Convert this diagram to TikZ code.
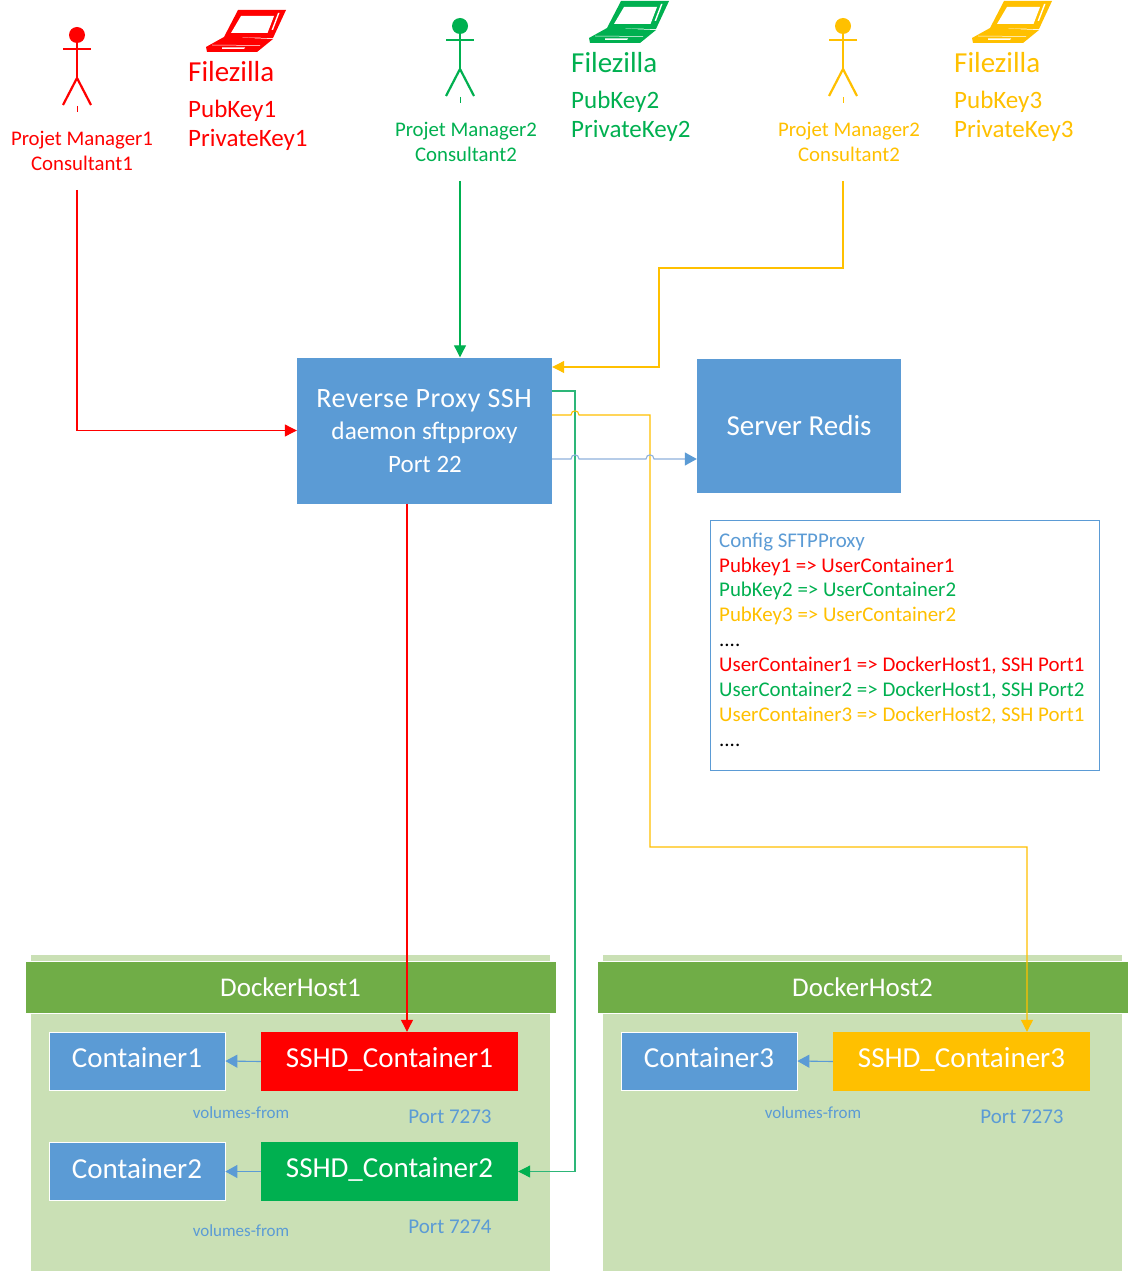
\documentclass[tikz,border=0pt]{standalone}
\usepackage{fontspec}
\setmainfont{Carlito}
\usetikzlibrary{arrows.meta}
\definecolor{cred}{HTML}{FF0000}
\definecolor{cgreen}{HTML}{00B050}
\definecolor{clink}{HTML}{2DB678}
\definecolor{cyellow}{HTML}{FFC000}
\definecolor{cblue}{HTML}{5B9BD5}
\definecolor{chead}{HTML}{70AD47}
\definecolor{cbg}{HTML}{CAE0B5}
\definecolor{cpale}{HTML}{8FB2DC}
\newcommand{\fs}[1]{\fontsize{#1}{#1}\selectfont}
\newcommand{\actorfig}[3]{%
 \begin{scope}[shift={(#1,#2)},draw=#3,line width=2.2pt]
  \fill[#3] (77,35) circle (8);
  \draw (63,49) -- (91,49);
  \draw (77,43) -- (77,78);
  \draw (63,105) -- (77,78) -- (91,105);
  \draw[line width=.6pt] (77,106) -- (77,112);
 \end{scope}}
\newcommand{\laptopfig}[3]{%
 \begin{scope}[shift={(#1,#2)}]
  \fill[#3] (238,10) -- (286,10) -- (273,38) -- (224,37) -- (206,47) -- (207,52) -- (257,52) -- (273,39) -- (224,37) -- cycle;
  \fill[white] (241,16) -- (274,16) -- (267.5,33) -- (231,33) -- cycle;
  \fill[white] (278,13) -- (279.5,13) -- (273,30) -- (271.5,30) -- cycle;
  \fill[white] (222,47.5) -- (245,47.5) -- (244,49) -- (222,49) -- cycle;
  \draw[white,line width=.5pt] (212,45) -- (260,45.5);
 \end{scope}}
\tikzset{
 box/.style={inner sep=0pt,text=white,align=center},
 bluebox/.style={box,fill=cblue},
 hostbar/.style={box,fill=chead,draw=white,line width=.4pt,minimum width=531pt,minimum height=52pt,font=\fs{27}},
 hostbg/.style={inner sep=0pt,fill=cbg,minimum width=519pt,minimum height=316pt},
 small/.style={box,minimum width=176pt,minimum height=58pt,font=\fs{29},draw=white,line width=.7pt},
 big/.style={box,minimum width=257pt,minimum height=59pt,font=\fs{29}},
 pm/.style={inner sep=0pt,align=center,font=\fs{20.8}},
 fz/.style={inner sep=0pt,anchor=base west,font=\fs{29}},
 keyt/.style={inner sep=0pt,anchor=base west,font=\fs{25}},
 cfg/.style={inner sep=0pt,anchor=base west,font=\fs{20.9}},
 vol/.style={inner sep=0pt,text=cblue,font=\fs{17}},
 port/.style={inner sep=0pt,text=cblue,font=\fs{21}},
 conn/.style={line width=1.1pt,-{Triangle[length=12pt,width=12pt]}},
 thin link/.style={line width=1.1pt,-{Triangle[length=12pt,width=13pt]}},
}
\begin{document}
\begin{tikzpicture}[x=1pt,y=-1pt]
\useasboundingbox[fill=white] (0,0) rectangle (1130,1273);

% people and laptops
\actorfig{0}{0}{cred}
\actorfig{383}{-9}{cgreen}
\actorfig{766}{-9}{cyellow}
\laptopfig{0}{0}{cred}
\laptopfig{383}{-9}{cgreen}
\laptopfig{766}{-9}{cyellow}

\node[pm,text=cred] (pmA) at (82,151) {Projet Manager1\\[4pt]Consultant1};
\node[pm,text=cgreen] (pmB) at (466,142) {Projet Manager2\\[4pt]Consultant2};
\node[pm,text=cyellow] (pmC) at (849,142) {Projet Manager2\\[4pt]Consultant2};

\node[fz,text=cred] (fzA) at (188,82) {Filezilla};
\node[keyt,text=cred] (pubA) at (188,118) {PubKey1};
\node[keyt,text=cred] (prvA) at (188,147) {PrivateKey1};
\node[fz,text=cgreen] (fzB) at (571,73) {Filezilla};
\node[keyt,text=cgreen] (pubB) at (571,109) {PubKey2};
\node[keyt,text=cgreen] (prvB) at (571,138) {PrivateKey2};
\node[fz,text=cyellow] (fzC) at (954,73) {Filezilla};
\node[keyt,text=cyellow] (pubC) at (954,109) {PubKey3};
\node[keyt,text=cyellow] (prvC) at (954,138) {PrivateKey3};

% central boxes
\node[bluebox,minimum width=255pt,minimum height=146pt] (proxy) at (424.5,430.5) {};
\node[inner sep=0pt,text=white,font=\fs{28}] (proxyA) at (424,401) {\addfontfeature{LetterSpace=2}Reverse Proxy SSH};
\node[inner sep=0pt,text=white,font=\fs{25.3}] (proxyB) at (424.5,433) {daemon sftpproxy};
\node[inner sep=0pt,text=white,font=\fs{25}] (proxyC) at (425,464) {Port 22};
\node[bluebox,minimum width=204pt,minimum height=134pt,font=\fs{29}] (redis) at (799,426) {\raisebox{1pt}{Server Redis}};

% config
\node[draw=cblue,line width=.7pt,minimum width=389pt,minimum height=250pt,inner sep=0pt] (config) at (904.5,645) {};
\node[cfg,text=cblue] (cfgA) at (719,547) {Config SFTPProxy};
\node[cfg,text=cred] (cfgB) at (719,572) {Pubkey1 => UserContainer1};
\node[cfg,text=cgreen] (cfgC) at (719,596) {PubKey2 => UserContainer2};
\node[cfg,text=cyellow] (cfgD) at (719,621) {PubKey3 => UserContainer2};
\node[cfg,text=black] (cfgE) at (719,646.5) {....};
\node[cfg,text=cred] (cfgF) at (719,671) {UserContainer1 => DockerHost1, SSH Port1};
\node[cfg,text=cgreen] (cfgG) at (719,696) {UserContainer2 => DockerHost1, SSH Port2};
\node[cfg,text=cyellow] (cfgH) at (719,721) {UserContainer3 => DockerHost2, SSH Port1};
\node[cfg,text=black] (cfgI) at (719,746.5) {....};

% hosts
\node[hostbg] (bgA) at (290.5,1113) {};
\node[hostbg] (bgB) at (862.5,1113) {};
\node[hostbar] (barA) at (290.5,987.5) {DockerHost1};
\node[hostbar] (barB) at (862.5,987.5) {DockerHost2};

\node[small,fill=cblue] (contA) at (137,1061) {\raisebox{6.5pt}{Container1}};
\node[small,fill=cblue] (contB) at (137,1171.5) {\raisebox{6.5pt}{Container2}};
\node[small,fill=cblue] (contC) at (709,1061) {\raisebox{6.5pt}{Container3}};
\node[big,fill=cred] (sshA) at (389.5,1061.5) {\raisebox{7pt}{SSHD\_Container1}};
\node[big,fill=cgreen] (sshB) at (389.5,1171.5) {\raisebox{7pt}{SSHD\_Container2}};
\node[big,fill=cyellow] (sshC) at (961.5,1061.5) {\raisebox{7pt}{SSHD\_Container3}};

\node[vol] (volA) at (241,1113) {volumes-from};
\node[vol] (volB) at (241,1231) {volumes-from};
\node[vol] (volC) at (813,1113) {volumes-from};
\node[port] (portA) at (450,1117) {Port 7273};
\node[port] (portB) at (450,1227) {Port 7274};
\node[port] (portC) at (1022,1117) {Port 7273};

% free ends and bends
\coordinate (startA) at (77,190);
\coordinate (startB) at (460,181);
\coordinate (startC) at (843,181);
\coordinate (yInA) at (843,268);
\coordinate (yInB) at (659,268);
\coordinate (yInC) at (659,367);
\coordinate (gOut) at (575,391);
\coordinate (yOutA) at (650,415);
\coordinate (yOutB) at (650,847);
\coordinate (yOutC) at (1027,847);
\coordinate (rOut) at (407,0);
\coordinate (bOut) at (0,459);

% connectors
\draw[conn,cred] (startA) |- (proxy.west);
\draw[conn,cgreen] (startB) -- (startB |- proxy.north);
\draw[conn,cyellow] (startC) -- (yInA) -- (yInB) -- (yInC) -- (proxy.east |- yInC);
\draw[conn,clink,-{Triangle[length=12pt,width=12pt,color=cgreen]}] (proxy.east |- gOut) -- (gOut) |- (sshB.east);
\draw[conn,cyellow] (proxy.east |- yOutA) -- (571,415) .. controls (571,409.5) and (579,409.5) .. (579,415) -- (yOutA) -- (yOutB) -- (yOutC) -- (sshC.north -| yOutC);
\draw[thin link,cpale,-{Triangle[length=12pt,width=13pt,color=cblue]}] (proxy.east |- bOut) -- (571,459) .. controls (571,453.5) and (579,453.5) .. (579,459) -- (646,459) .. controls (646,453.5) and (654,453.5) .. (654,459) -- (redis.west |- bOut);
\draw[conn,cred] (rOut |- proxy.south) -- (rOut |- sshA.north);
\draw[thin link,cblue] (sshA.west) -- (contA.east);
\draw[thin link,cblue] (sshB.west) -- (contB.east);
\draw[thin link,cblue] (sshC.west) -- (contC.east);
\end{tikzpicture}
\end{document}
